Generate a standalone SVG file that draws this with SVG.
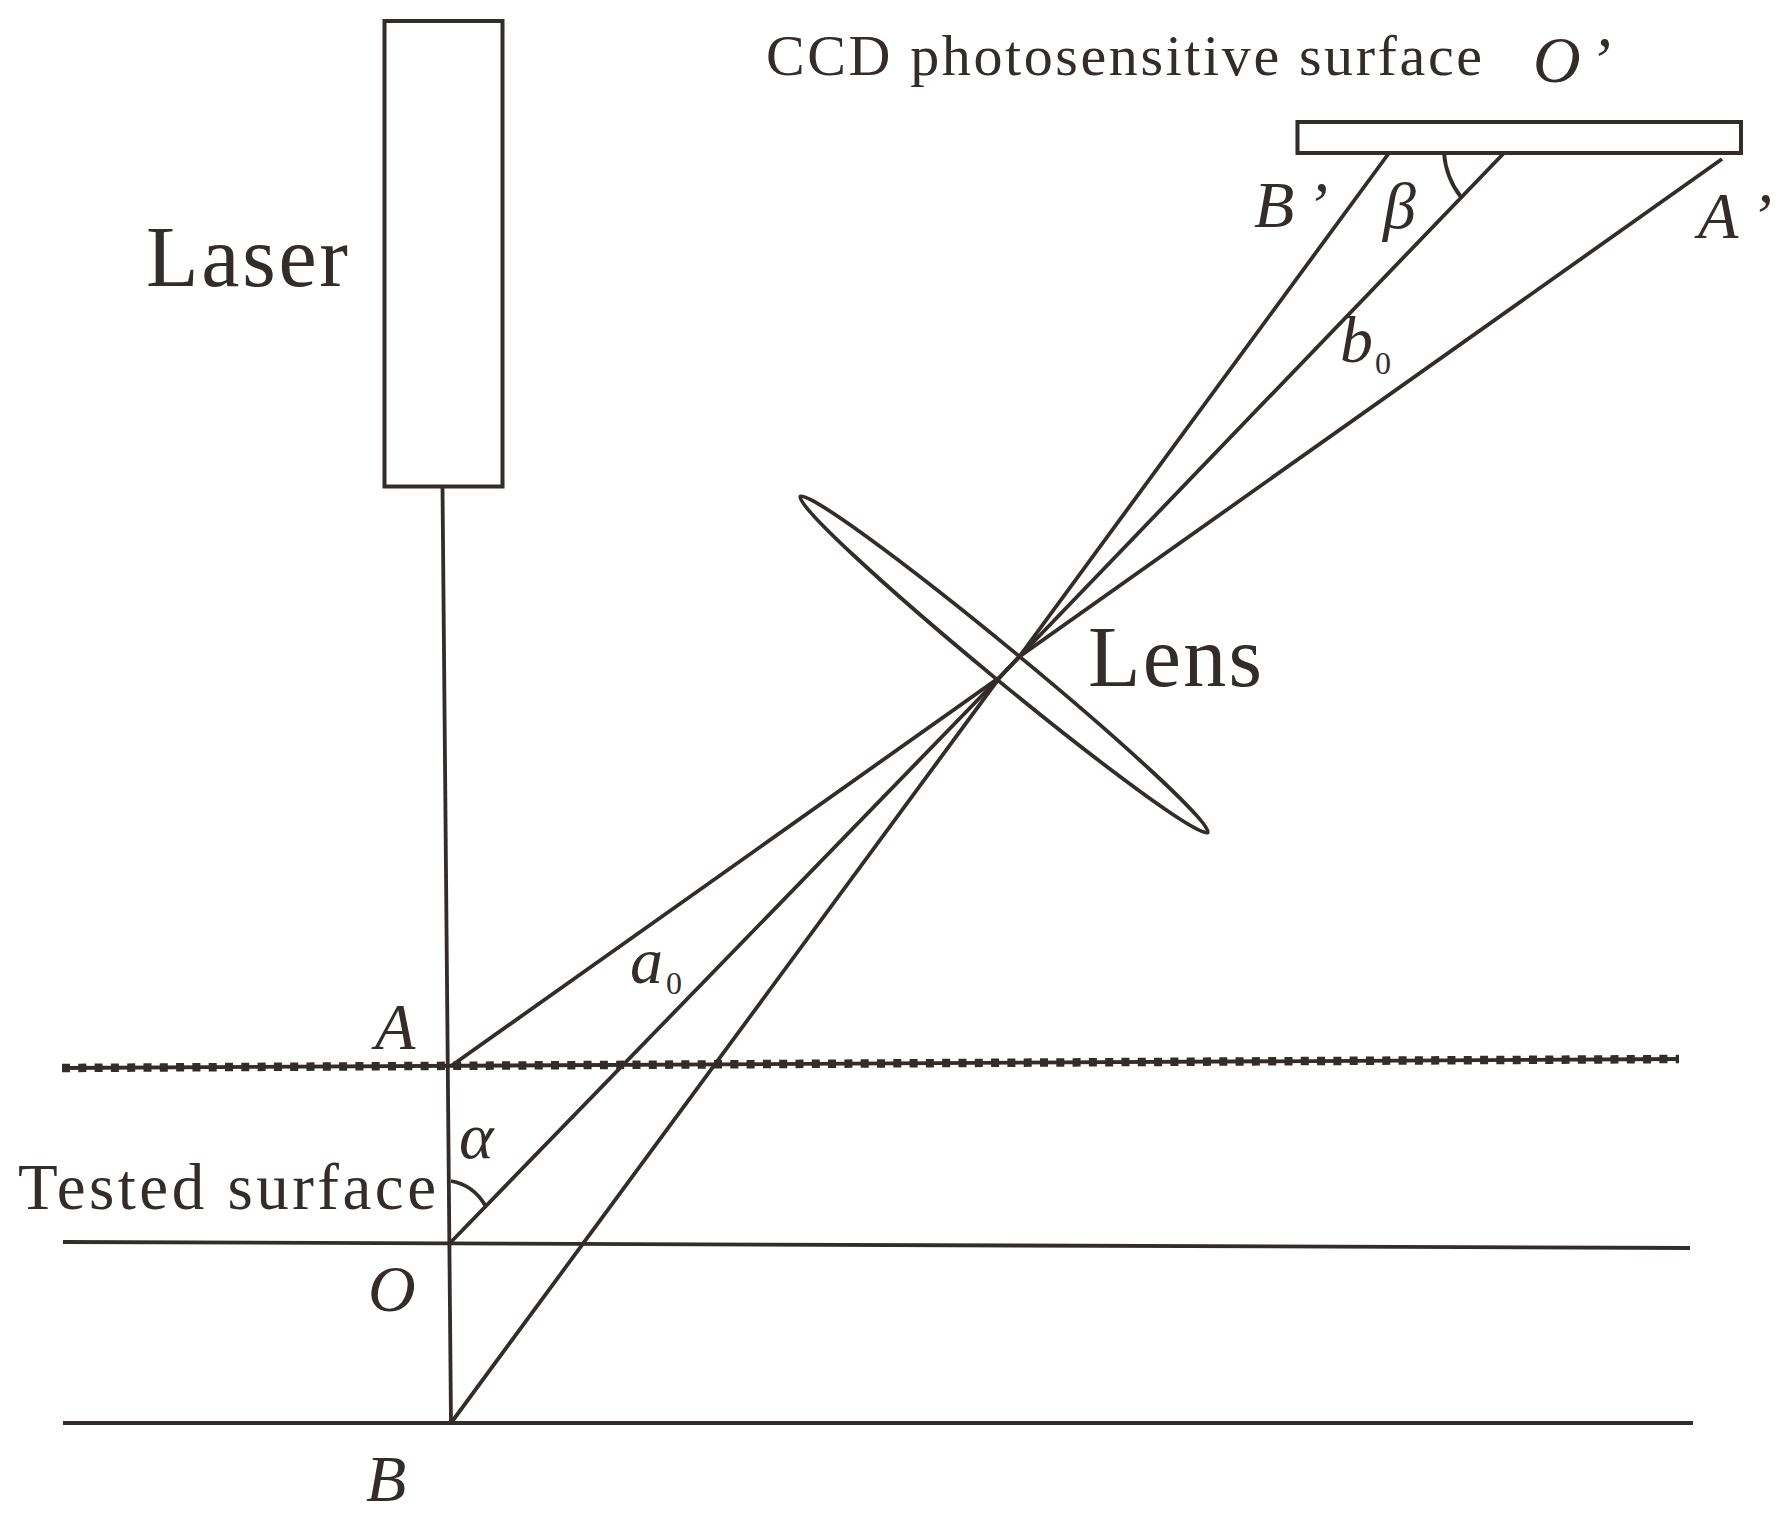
<svg xmlns="http://www.w3.org/2000/svg" width="1782" height="1530" viewBox="0 0 1782 1530">
<style>
.s{fill:none;stroke:#332c2b;stroke-width:3.8}
.b{fill:#fff;stroke:#332c2b;stroke-width:4}
text{font-family:"Liberation Serif","Times New Roman",serif;fill:#332c2b}
.i{font-style:italic;font-size:66px}
.big{font-size:86px}
.sub{font-size:32px}
</style>
<rect width="1782" height="1530" fill="#fff"/>
<g id="connectors">
<path class="s" d="M442.500 486L451 1423"/>
<path class="s" d="M451 1066L1000 677L1019 657L1722 159"/>
<path class="s" d="M451 1242L1000 677L1019 657L1504 153"/>
<path class="s" d="M451 1423L1000 677L1019 657L1389 153"/>
<path class="s" d="M63 1068L1679 1059"/>
<path d="M62 1068L1679 1059" fill="none" stroke="#332c2b" stroke-width="8.500" stroke-dasharray="8 8.300"/>
<path class="s" d="M63 1242L1690 1248"/>
<path class="s" d="M63 1423L1693 1423"/>
<path class="s" d="M1444 153Q1446 178 1461 197"/>
<path class="s" d="M451 1181Q473 1185 485 1205"/>
</g>
<g id="laser">
<rect class="b" x="384.500" y="21" width="118" height="465.500"/>
<text class="big" x="146" y="286" textLength="202">Laser</text>
</g>
<g id="ccd">
<rect class="b" x="1297.500" y="122" width="443.500" height="31"/>
<text x="766" y="75" font-size="58" textLength="716">CCD photosensitive surface</text>
<text class="i" x="1533" y="82">O</text>
<text class="i" x="1589" y="82">’</text>
</g>
<g id="lens">
<ellipse class="s" cx="1004" cy="664.500" rx="264" ry="16" transform="rotate(39.500 1004 664.500)"/>
<text class="big" x="1088" y="686" textLength="174">Lens</text>
</g>
<g id="tested-surface">
<text x="18" y="1209" font-size="65" textLength="418">Tested surface</text>
</g>
<g id="labels">
<text class="i" x="1254" y="227">B</text>
<text class="i" x="1306" y="227">’</text>
<text class="i" x="1698" y="238">A</text>
<text class="i" x="1750" y="238">’</text>
<text class="i" x="1383" y="228">β</text>
<text class="i" x="1340" y="362">b</text>
<text class="sub" x="1375" y="374">0</text>
<text class="i" x="630" y="983">a</text>
<text class="sub" x="666" y="994">0</text>
<text class="i" x="375" y="1049">A</text>
<text class="i" x="459" y="1158">α</text>
<text class="i" x="368" y="1311">O</text>
<text class="i" x="366" y="1501">B</text>
</g>
</svg>
